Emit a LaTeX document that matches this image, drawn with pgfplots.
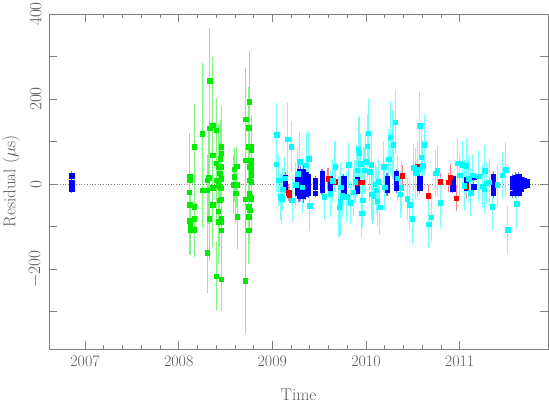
\documentclass[border=0pt]{standalone}
\usepackage{pgfplots}
\usepackage{pgfplotstable}
\pgfplotsset{compat=1.18}
\definecolor{axgray}{RGB}{128,128,128}
\definecolor{txtgray}{RGB}{90,90,90}
\definecolor{pgreen}{RGB}{0,235,0}
\definecolor{pcyan}{RGB}{0,255,255}
\definecolor{pblue}{RGB}{0,0,255}
\definecolor{pred}{RGB}{255,0,0}

\pgfplotstableread{
x y e
2008.116 19 100
2008.120 9 95
2008.112 -19 90
2008.116 -49 85
2008.112 -86 80
2008.125 -95 70
2008.125 -107 60
2008.168 88 100
2008.168 -53 80
2008.168 -82 90
2008.165 -107 60
2008.250 119 165
2008.255 -14 90
2008.303 9 60
2008.303 -14 75
2008.318 15 110
2008.303 -162 95
2008.325 -81 100
2008.329 131 120
2008.329 243 125
2008.363 139 160
2008.363 68 90
2008.363 -9 70
2008.363 -49 100
2008.400 127 75
2008.400 49 70
2008.400 9 90
2008.400 -217 80
2008.423 41 100
2008.423 -2 80
2008.423 -64 95
2008.423 -89 100
2008.438 25 75
2008.438 -6 90
2008.438 -38 110
2008.445 60 90
2008.453 88 95
2008.453 72 80
2008.453 41 70
2008.453 13 85
2008.453 -10 90
2008.453 -36 100
2008.453 -81 95
2008.453 -89 105
2008.453 -108 75
2008.453 -224 75
2008.595 35 50
2008.595 17 60
2008.590 -1 70
2008.617 42 45
2008.617 -1 55
2008.610 -22 70
2008.625 -77 75
2008.715 152 120
2008.715 56 70
2008.712 -36 100
2008.712 -227 125
2008.753 194 120
2008.750 133 95
2008.745 88 130
2008.745 56 100
2008.753 41 85
2008.753 9 90
2008.753 -22 110
2008.745 -53 120
2008.745 -77 90
2008.745 -108 80
2008.775 88 75
2008.775 80 60
2008.775 56 80
2008.775 45 90
2008.775 33 70
2008.775 21 85
2008.775 5 95
2008.775 -34 70
2008.760 -61 80
2008.760 -30 70
}\greendata

\pgfplotstableread{
x y e
2009.048 116 75
2009.041 47 65
2009.070 9 60
2009.088 -30 55
2009.098 -35 60
2009.113 -12 50
2009.130 14 50
2009.166 106 85
2009.202 88 60
2009.212 -38 50
2009.248 -2 55
2009.270 24 60
2009.291 52 70
2009.319 -8 60
2009.362 44 75
2009.387 60 65
2009.398 -51 60
2009.555 -30 55
2009.619 -23 55
2009.644 8 50
2009.669 41 60
2009.712 -54 70
2009.726 -41 80
2009.729 -7 60
2009.747 -27 50
2009.794 -30 60
2009.815 45 55
2009.833 -44 50
2009.865 -19 55
2009.883 6 50
2009.904 32 60
2009.918 81 80
2009.929 73 85
2009.943 48 70
2009.954 -68 60
2009.965 -38 65
2009.979 32 55
2009.997 52 70
2010.015 89 75
2010.025 120 80
2010.040 29 70
2010.057 46 70
2010.061 -24 60
2010.075 -29 65
2010.097 0 50
2010.111 -15 55
2010.122 -40 60
2010.132 5 55
2010.146 -54 65
2010.189 41 60
2010.200 -8 55
2010.243 59 70
2010.260 110 85
2010.289 93 80
2010.314 145 75
2010.335 14 55
2010.364 -24 55
2010.378 -9 60
2010.442 -35 50
2010.467 -49 60
2010.496 -82 60
2010.510 39 55
2010.532 25 60
2010.553 34 65
2010.574 137 80
2010.592 63 70
2010.606 43 60
2010.624 92 70
2010.670 -95 55
2010.695 -78 55
2010.742 25 55
2010.763 32 60
2010.792 -44 60
2010.977 49 60
2010.999 21 50
2011.027 46 55
2011.073 43 65
2011.049 -4 60
2011.098 12 55
2011.116 -20 55
2011.141 21 50
2011.205 18 60
2011.245 -5 50
2011.270 31 60
2011.263 -12 55
2011.287 2 50
2011.316 4 55
2011.348 -53 55
2011.401 -2 50
2011.455 21 55
2011.494 34 65
2011.515 -107 56
2011.612 -46 60
}\cyandata

\pgfplotstableread{
x y e
2006.860 20 10
2006.860 3 10
2006.860 -3 10
2006.860 -8 10
2006.860 -12 10
2009.135 16 12
2009.135 8 12
2009.135 2 12
2009.135 -4 12
2009.135 -10 12
2009.265 25 14
2009.265 12 14
2009.265 0 14
2009.265 -12 14
2009.265 -22 14
2009.285 30 15
2009.285 18 15
2009.285 5 15
2009.285 -5 15
2009.285 -18 15
2009.285 -28 15
2009.305 28 14
2009.305 15 14
2009.305 2 14
2009.305 -10 14
2009.305 -25 14
2009.330 30 15
2009.330 20 15
2009.330 8 15
2009.330 -3 15
2009.330 -15 15
2009.330 -29 15
2009.355 22 14
2009.355 10 14
2009.355 -2 14
2009.355 -14 14
2009.355 -24 14
2009.385 18 12
2009.385 5 12
2009.385 -8 12
2009.385 -20 12
2009.460 8 10
2009.460 0 10
2009.460 -8 10
2009.460 -21 10
2009.530 24 12
2009.530 14 12
2009.530 4 12
2009.530 -5 12
2009.530 -13 12
2009.620 14 12
2009.620 2 12
2009.620 -8 12
2009.620 -17 12
2009.760 12 12
2009.760 2 12
2009.760 -10 12
2009.760 -20 12
2009.905 10 12
2009.905 0 12
2009.905 -8 12
2009.905 -17 12
2010.225 14 12
2010.225 5 12
2010.225 -5 12
2010.225 -15 12
2010.325 24 12
2010.325 10 12
2010.325 0 12
2010.325 -10 12
2010.574 14 10
2010.574 4 10
2010.574 -4 10
2010.574 -10 10
2010.924 12 10
2010.924 4 10
2010.924 -4 10
2010.924 -12 10
2011.073 10 10
2011.073 0 10
2011.073 -10 10
2011.152 16 10
2011.152 -6 10
2011.358 18 12
2011.358 8 12
2011.358 0 12
2011.358 -10 12
2011.358 -20 12
2011.562 12 12
2011.562 2 12
2011.562 -8 12
2011.562 -21 12
2011.600 16 12
2011.600 6 12
2011.600 -4 12
2011.600 -14 12
2011.600 -20 12
2011.630 19 10
2011.630 8 10
2011.630 0 10
2011.630 -10 10
2011.630 -20 10
2011.660 10 10
2011.660 3 10
2011.660 -5 10
2011.660 -12 10
2011.690 8 8
2011.690 2 8
2011.690 -4 8
2011.715 5 8
2011.715 0 8
2011.715 -3 8
}\bluedata

\pgfplotstableread{
x y e
2009.173 -20 20
2009.180 -26 18
2009.594 12 25
2009.672 6 20
2009.905 2 20
2009.960 4 22
2010.389 20 25
2010.546 41 20
2010.663 -28 25
2010.795 5 20
2010.884 4 22
2010.899 16 30
2010.963 -33 30
2011.073 -6 30
}\reddata

\begin{document}
\begin{tikzpicture}
\begin{axis}[
  name=ax,
  scale only axis,
  width=499pt, height=335pt,
  xmin=2006.615, xmax=2011.944,
  ymin=-388, ymax=400,
  axis line style={axgray, line width=0.6pt},
  tick style={axgray, line width=0.6pt},
  major tick length=8pt,
  minor tick length=4pt,
  xtick={2007,2008,2009,2010,2011},
  xticklabels={2007,2008,2009,2010,2011},
  minor x tick num=4,
  ytick={-300,-200,-100,0,100,200,300,400},
  yticklabels={,$-200$,,$0$,,$200$,,$400$},
  scaled ticks=false,
  tick label style={font=\fontsize{16}{16}\selectfont, text=txtgray},
  xticklabel shift=3pt,
  yticklabel style={rotate=90, anchor=south},
  yticklabel shift=4pt,
  xlabel={Time},
  ylabel={Residual ($\mu$s)},
  label style={font=\fontsize{17}{17}\selectfont, text=txtgray},
  xlabel style={at={(axis description cs:0.5,-0.136)}, anchor=center},
  ylabel style={at={(axis description cs:-0.076,0.5)}, anchor=center},
  clip=true,
]
\addplot[axgray, dotted, line width=0.7pt] coordinates {(2006.615,0) (2011.944,0)};

\addplot[only marks, mark=square*, mark size=2.25pt, color=pgreen,
  error bars/.cd, y dir=both, y explicit, error mark=none,
  error bar style={color=pgreen!50!white, line width=1.1pt}]
  table[x=x, y=y, y error=e] {\greendata};

\addplot[only marks, mark=square*, mark size=2.25pt, color=pblue,
  error bars/.cd, y dir=both, y explicit, error mark=none,
  error bar style={color=pblue!55!white, line width=1.1pt}]
  table[x=x, y=y, y error=e] {\bluedata};

\addplot[only marks, mark=square*, mark size=2.25pt, color=pred,
  error bars/.cd, y dir=both, y explicit, error mark=none,
  error bar style={color=pred!50!white, line width=1.1pt}]
  table[x=x, y=y, y error=e] {\reddata};

\addplot[only marks, mark=square*, mark size=2.25pt, color=pcyan,
  error bars/.cd, y dir=both, y explicit, error mark=none,
  error bar style={color=pcyan!55!white, line width=1.1pt}]
  table[x=x, y=y, y error=e] {\cyandata};
\end{axis}
\pgfresetboundingbox
\path ([xshift=-49pt,yshift=-54pt]ax.south west) rectangle ([xshift=1pt,yshift=14pt]ax.north east);
\end{tikzpicture}
\end{document}
